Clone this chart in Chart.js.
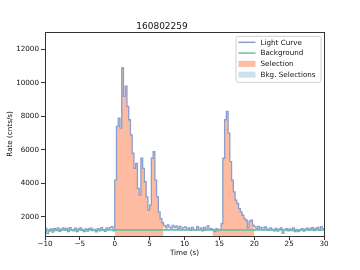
<!DOCTYPE html>
<html>
<head>
<meta charset="utf-8">
<script src="https://cdn.jsdelivr.net/npm/chart.js@4.4.1/dist/chart.umd.min.js"></script>
<style>
  html, body { margin: 0; padding: 0; background: #fff; }
  #lc { display: block; }
</style>
</head>
<body>
<canvas id="lc" width="360" height="270"></canvas>
<script>
// Light curve data: 0.25 s bins starting at -10 s
const binStart = -10;
const binWidth = 0.25;
const rates = [
    // -10 .. 0
    1320, 1000, 1150, 1280, 1100, 1300, 1180, 1340,
    1140, 1270, 1350, 1190, 1310, 1130, 1360, 1220,
    1170, 1330, 1120, 1290, 1340, 1200, 1130, 1280,
    1150, 1300, 1330, 1180, 1260, 1110, 1300, 1170,
    1360, 1220, 1140, 1340, 1250, 1360, 1420, 1160,
    // 0 .. 7
    4200, 7400, 7900, 7300, 10900, 9200, 9800, 8600,
    7800, 6900, 5800, 4900, 5200, 3700, 3300, 5500,
    4900, 4100, 3200, 2400, 2700, 5500, 5900, 4200,
    3200, 2300, 1900, 1650,
    // 7 .. 14
    1480, 1350, 1520, 1390, 1330, 1500, 1360, 1450,
    1280, 1430, 1220, 1360, 1410, 1240, 1350, 1190,
    1380, 1260, 1200, 1420, 1240, 1340, 1170, 1380,
    1220, 1470, 1280, 1300,
    // 14 .. 15.5
    1230, 1120, 1300, 1180, 1260, 1600,
    // 15.5 .. 20
    5500, 7800, 8300, 7000, 5300, 4200, 3500, 3000,
    2800, 2500, 2300, 2100, 1900, 1800, 1350, 1750,
    1800, 1500,
    // 20 .. 30
    1420, 1280, 1440, 1260, 1370, 1220, 1400, 1290,
    1200, 1350, 1260, 1170, 1320, 1150, 1270, 1350,
    1020, 1240, 1300, 1160, 1290, 1180, 1340, 1130,
    1250, 1120, 1240, 1300, 1150, 1270, 1330, 1190,
    1310, 1360, 1180, 1320, 1370, 1210, 1420, 1300
];

const bkgTimes = [-10, 30];
const bkgRates = [1220, 1220];

const selStarts = [0, 14];
const selEnds = [7, 20];

const xTicks = [-10, -5, 0, 5, 10, 15, 20, 25, 30];
const yTicks = [2000, 4000, 6000, 8000, 10000, 12000];

// Colours
const lcColor = '#8a9dcc';
const bkgColor = '#66c2a5';
const selColor = 'rgba(252, 141, 98, 0.6)';
const bkgSelColor = '#cde0ee';

// step points (value holds until next point), closing point at the end
function stepPoints(from, to) {
    const pts = [];
    rates.forEach((r, i) => {
        const t = binStart + i * binWidth;
        if (t >= from - 1e-9 && t < to - 1e-9) pts.push({ x: t, y: r });
    });
    if (pts.length) pts.push({ x: to, y: pts[pts.length - 1].y });
    return pts;
}

const lcEnd = binStart + rates.length * binWidth;
const lcData = stepPoints(binStart, lcEnd);

const datasets = [
    {
        label: 'Background',
        data: bkgTimes.map((t, i) => ({ x: t, y: bkgRates[i] })),
        borderColor: bkgColor,
        borderWidth: 1.8,
        pointRadius: 0,
        fill: false
    },
    {
        label: 'Light Curve',
        data: lcData,
        borderColor: lcColor,
        borderWidth: 1.3,
        stepped: true,
        pointRadius: 0,
        fill: false
    }
];
selStarts.forEach((s, i) => {
    datasets.push({
        label: 'Selection',
        data: stepPoints(s, selEnds[i]),
        borderWidth: 0,
        borderColor: 'rgba(0,0,0,0)',
        backgroundColor: selColor,
        stepped: true,
        pointRadius: 0,
        fill: 'start'
    });
});

const font = { family: 'DejaVu Sans', size: 7.2 };
const textColor = '#111';

// legend inside the axes, matplotlib style
const legendBox = {
    id: 'legendBox',
    afterDraw(chart) {
        const ctx = chart.ctx;
        const area = chart.chartArea;
        const items = [
            { label: 'Light Curve', type: 'line', color: lcColor },
            { label: 'Background', type: 'line', color: bkgColor },
            { label: 'Selection', type: 'patch', color: selColor },
            { label: 'Bkg. Selections', type: 'patch', color: bkgSelColor }
        ];
        const w = 85, h = 46;
        const x0 = area.right - w - 3.5, y0 = area.top + 4;
        ctx.save();
        ctx.fillStyle = 'rgba(255,255,255,0.85)';
        ctx.strokeStyle = '#d0d0d0';
        ctx.lineWidth = 1;
        ctx.beginPath();
        ctx.roundRect(x0 + 0.5, y0 + 0.5, w, h, 2);
        ctx.fill();
        ctx.stroke();
        ctx.font = '7.2px "DejaVu Sans"';
        ctx.textBaseline = 'middle';
        items.forEach((it, i) => {
            const cy = y0 + 6.5 + i * 10.8;
            if (it.type === 'line') {
                ctx.strokeStyle = it.color;
                ctx.lineWidth = 1.5;
                ctx.beginPath();
                ctx.moveTo(x0 + 3, cy);
                ctx.lineTo(x0 + 20, cy);
                ctx.stroke();
            } else {
                ctx.fillStyle = it.color;
                ctx.fillRect(x0 + 3, cy - 3, 17, 6);
            }
            ctx.fillStyle = textColor;
            ctx.fillText(it.label, x0 + 25, cy + 0.5);
        });
        ctx.restore();
    }
};

// axes frame
const frame = {
    id: 'frame',
    afterDraw(chart) {
        const { ctx, chartArea: a } = chart;
        ctx.save();
        ctx.strokeStyle = '#333';
        ctx.lineWidth = 1;
        ctx.strokeRect(Math.round(a.left) + 0.5, Math.round(a.top) + 0.5,
            Math.round(a.right - a.left), Math.round(a.bottom - a.top));
        ctx.restore();
    }
};

new Chart(document.getElementById('lc'), {
    type: 'line',
    data: { datasets },
    plugins: [frame, legendBox],
    options: {
        responsive: false,
        animation: false,
        devicePixelRatio: 1,
        layout: { padding: { left: 0, right: 36, top: 0, bottom: 0 } },
        plugins: {
            legend: { display: false },
            tooltip: { enabled: false },
            title: {
                display: true,
                text: '160802259',
                color: textColor,
                font: { family: 'DejaVu Sans', size: 9, weight: 'normal' },
                padding: { top: 21, bottom: 0 }
            }
        },
        scales: {
            x: {
                type: 'linear',
                min: -10,
                max: 30,
                afterFit(scale) { scale.height = 34; },
                afterBuildTicks(scale) { scale.ticks = xTicks.map(v => ({ value: v })); },
                grid: { display: true, drawOnChartArea: false, tickLength: 4, color: '#333' },
                border: { display: false },
                ticks: {
                    font, color: textColor, padding: 0, maxRotation: 0,
                    callback: v => (v < 0 ? '\u2212' + Math.abs(v) : String(v))
                },
                title: { display: true, text: 'Time (s)', font, color: textColor, padding: { top: 0, bottom: 13 } }
            },
            y: {
                min: 860,
                max: 13050,
                afterFit(scale) { scale.width = 45; },
                afterBuildTicks(scale) { scale.ticks = yTicks.map(v => ({ value: v })); },
                grid: { display: true, drawOnChartArea: false, tickLength: 4, color: '#333' },
                border: { display: false },
                ticks: { font, color: textColor, padding: 2, callback: v => String(v) },
                title: { display: true, text: 'Rate (cnts/s)', font, color: textColor, padding: { top: 6, bottom: 0 } }
            }
        }
    }
});
</script>
</body>
</html>
